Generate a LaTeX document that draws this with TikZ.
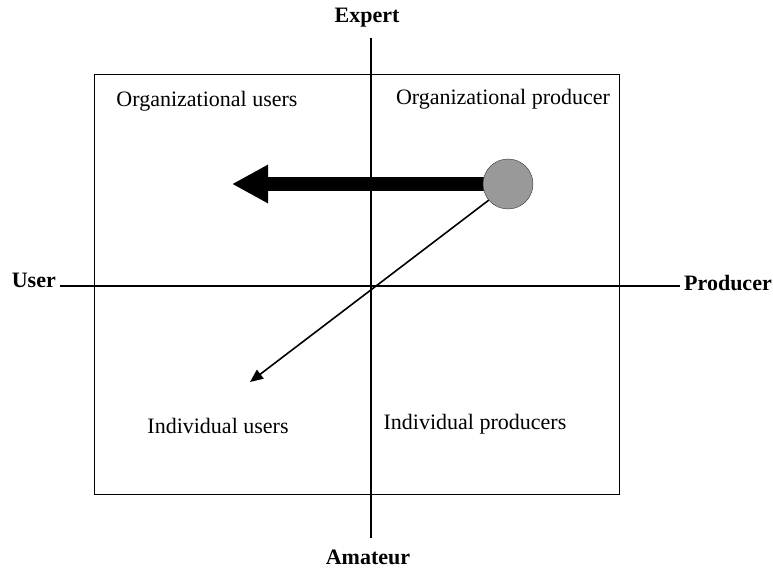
\documentclass[tikz,border=0pt]{standalone}
\usepackage{fontspec}
\setmainfont{Liberation Serif}
\usetikzlibrary{arrows.meta}

\tikzset{
	quad/.style={font=\fontsize{22}{26}\selectfont},
	axislabel/.style={font=\fontsize{22}{26}\selectfont\bfseries, inner sep=1pt},
	axis/.style={line width=2pt},
}

\begin{document}
\begin{tikzpicture}[x=1pt, y=-1pt]
		%%%%% START %%%%%
		\useasboundingbox (0, 0) rectangle (773, 572);
		
		\draw[line width=1pt] (94, 75) rectangle (619, 494);
		
		\node[axislabel] (expert) at (367, 18) {Expert};
		\node[axislabel] (amateur) at (368, 557) {Amateur};
		\node[axislabel, anchor=east] (user) at (57, 280) {User};
		\node[axislabel, anchor=west, inner sep=0pt] (producer) at (684, 283) {Producer};
		
		\coordinate (top) at (371, 38);
		\coordinate (bottom) at (371, 538);
		\coordinate (left) at (60, 286);
		\coordinate (right) at (680, 286);
		\draw[axis] (top) -- (bottom);
		\draw[axis] (left) -- (right);
		
		\node[quad] (orgusers) at (207, 101) {Organizational users};
		\node[quad] (orgprod) at (503, 99) {Organizational producer};
		\node[quad] (indusers) at (218, 426) {Individual users};
		\node[quad] (indprod) at (475, 424) {Individual producers};
		
		\coordinate (bigtip) at (232, 184);
		\coordinate (smalltip) at (250, 382);
		\node[circle, minimum size=50pt, inner sep=0pt] (dot) at (508, 184) {};
		
		% fat arrow goes under the disc
		\draw[line width=14pt, -{Triangle[length=36pt, width=36pt]}] (dot.center) -- (bigtip);
		\node[circle, draw=black!80, fill=black!40, minimum size=50pt, inner sep=0pt] at (dot) {};
		\draw[line width=1.6pt, -{Triangle[length=13pt, width=11pt]}] (dot.220) -- (smalltip);
		%%%%% END %%%%%
	\end{tikzpicture}
\end{document}
